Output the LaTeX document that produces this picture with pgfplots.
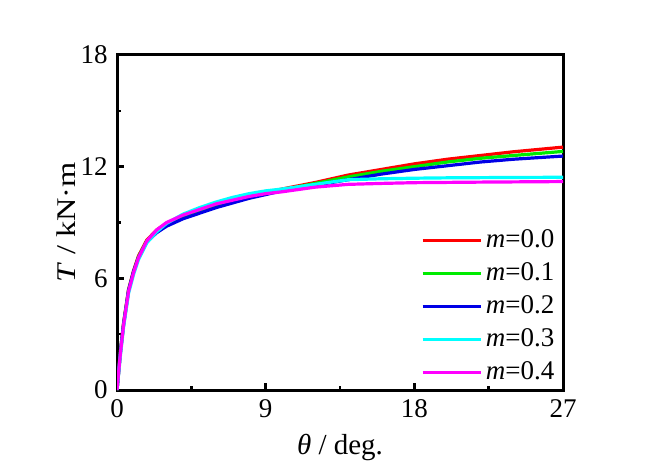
\documentclass[border=0pt]{standalone}
\usepackage{fontspec}
\setmainfont{Liberation Serif}
\usepackage{graphicx}
\usepackage{pgfplots}
\pgfplotsset{compat=1.18}

\definecolor{cRed}{RGB}{255,0,0}
\definecolor{cGreen}{RGB}{0,235,0}
\definecolor{cBlue}{RGB}{0,0,230}
\definecolor{cCyan}{RGB}{0,255,255}
\definecolor{cMagenta}{RGB}{255,0,255}

\begin{document}
\fontsize{13.5}{16}\selectfont
\begin{tikzpicture}
\begin{axis}[
  at={(0,0)}, anchor=south west,
  scale only axis,
  width=223pt, height=167.5pt,
  xmin=0, xmax=27, ymin=0, ymax=18,
  xtick={0,9,18,27}, ytick={0,6,12,18},
  minor tick num=1,
  tick pos=left, tick align=inside,
  major tick length=3.5pt, minor tick length=2pt,
  every tick/.style={line width=1.2pt, black},
  axis line style={line width=1.5pt},
  /pgf/number format/assume math mode=true,
  ticklabel style={font=\fontsize{13.5}{16}\selectfont},
  xlabel={\textit{θ} / deg.},
  ylabel={\scalebox{1.2}[1]{\textit{T} / kN·m}},
  xlabel style={font=\fontsize{14.5}{17}\selectfont, yshift=1pt},
  ylabel style={font=\fontsize{13.5}{16}\selectfont, yshift=-7pt},
  legend style={draw=none, fill=none, at={(0.995,0.0)}, anchor=south east,
    font=\fontsize{13.5}{16}\selectfont, row sep=1.5pt, inner sep=1pt},
  legend cell align=left,
  legend image code/.code={\draw[#1, line width=1.3pt] (0pt,0pt) -- (29pt,0pt);},
  every axis plot/.append style={line width=1.6pt, line join=round},
]
% m = 0.0
\addplot[color=cRed] coordinates {
 (0,0) (0.2,2.0) (0.4,3.6) (0.7,5.4) (1.0,6.4) (1.3,7.2) (1.8,8.05) (2.4,8.6)
 (3,8.95) (4,9.35) (5,9.65) (6,9.95) (7,10.2) (8,10.4) (9,10.6) (10,10.8)
 (12,11.15) (14,11.55) (16,11.85) (18,12.15) (20,12.4) (22,12.6) (24,12.8) (27,13.05)};
\addlegendentry{\textit{m}=0.0}
% m = 0.1
\addplot[color=cGreen] coordinates {
 (0,0) (0.2,2.0) (0.4,3.55) (0.7,5.35) (1.0,6.35) (1.3,7.15) (1.8,8.0) (2.4,8.55)
 (3,8.9) (4,9.3) (5,9.6) (6,9.9) (7,10.15) (8,10.35) (9,10.55) (10,10.75)
 (12,11.1) (14,11.45) (16,11.75) (18,12.0) (20,12.25) (22,12.45) (24,12.6) (27,12.82)};
\addlegendentry{\textit{m}=0.1}
% m = 0.2
\addplot[color=cBlue] coordinates {
 (0,0) (0.2,2.0) (0.4,3.55) (0.7,5.35) (1.0,6.35) (1.3,7.1) (1.8,7.95) (2.4,8.45)
 (3,8.8) (4,9.2) (5,9.5) (6,9.8) (7,10.05) (8,10.3) (9,10.5) (10,10.7)
 (12,11.0) (14,11.3) (16,11.6) (18,11.85) (20,12.05) (22,12.25) (24,12.4) (27,12.57)};
\addlegendentry{\textit{m}=0.2}
% m = 0.3
\addplot[color=cCyan] coordinates {
 (0,0) (0.2,1.8) (0.4,3.4) (0.7,5.2) (1.0,6.2) (1.3,7.0) (1.8,7.9) (2.4,8.5)
 (3,8.95) (4,9.45) (5,9.8) (6,10.1) (7,10.35) (8,10.55) (9,10.7) (10,10.8)
 (12,11.05) (14,11.3) (16,11.35) (18,11.38) (20,11.4) (24,11.42) (27,11.43)};
\addlegendentry{\textit{m}=0.3}
% m = 0.4
\addplot[color=cMagenta] coordinates {
 (0,0) (0.2,1.9) (0.4,3.5) (0.7,5.3) (1.0,6.3) (1.3,7.1) (1.8,8.0) (2.4,8.6)
 (3,9.0) (4,9.4) (5,9.7) (6,10.0) (7,10.2) (8,10.4) (9,10.55) (10,10.65)
 (12,10.9) (14,11.05) (16,11.1) (18,11.14) (22,11.17) (27,11.2)};
\addlegendentry{\textit{m}=0.4}
\end{axis}
\path (-58.5pt,-40pt) rectangle (269.5pt,195pt);
\end{tikzpicture}
\end{document}
